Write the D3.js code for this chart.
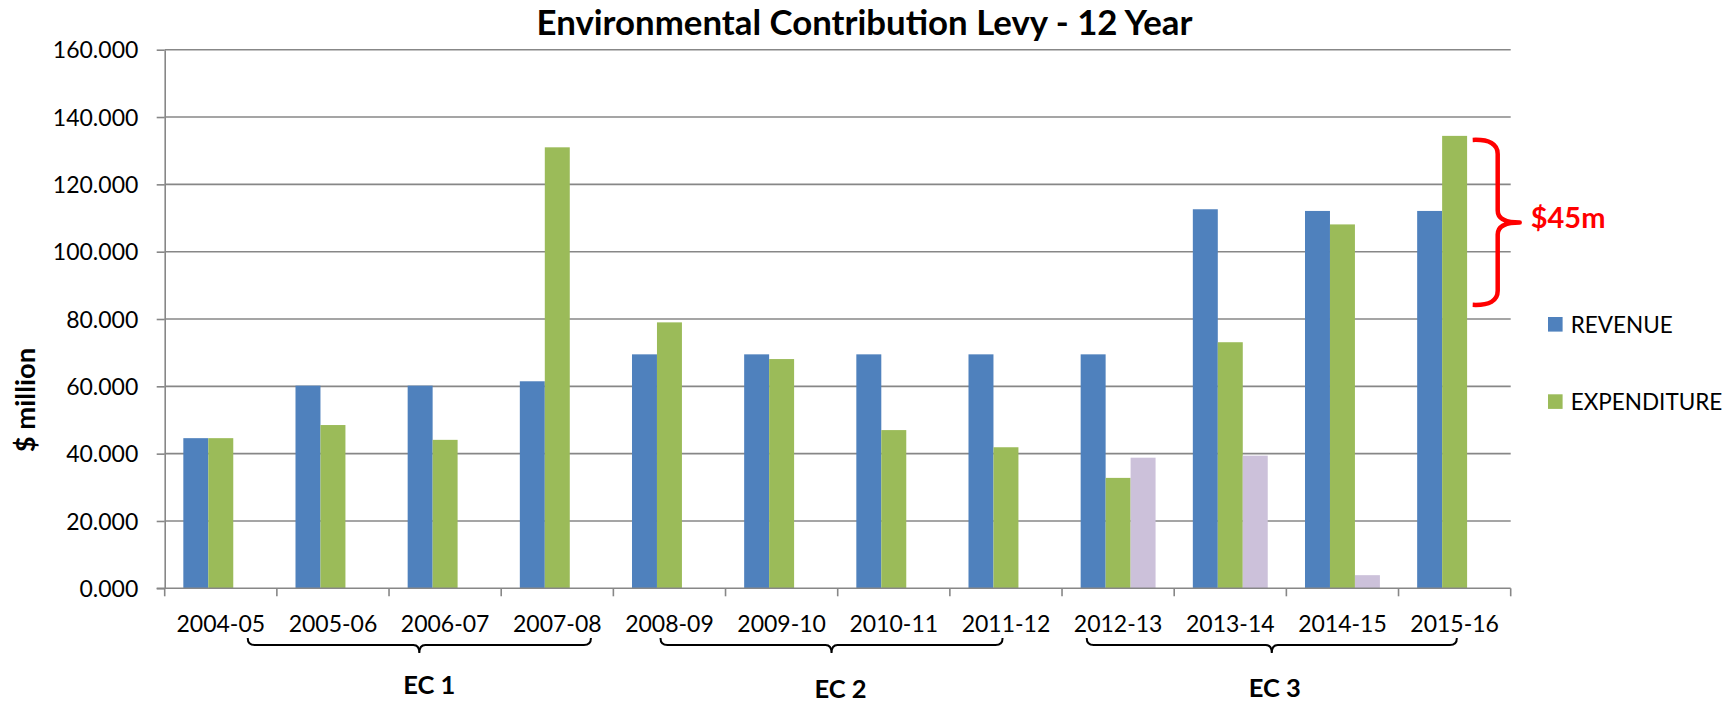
<!DOCTYPE html>
<html>
<head>
<meta charset="utf-8">
<script src="https://cdn.jsdelivr.net/npm/d3@7"></script>
<style>
  html, body { margin: 0; padding: 0; background: #ffffff; }
  svg { display: block; font-family: Lato, "Open Sans", "Liberation Sans", sans-serif; }
</style>
</head>
<body>
<svg id="chart" width="1731" height="702"></svg>
<script>
// ---------- data ----------
const categories = ["2004-05", "2005-06", "2006-07", "2007-08", "2008-09", "2009-10",
                    "2010-11", "2011-12", "2012-13", "2013-14", "2014-15", "2015-16"];
const revenue     = [44.6, 60.2, 60.2, 61.5, 69.5, 69.5, 69.5, 69.5, 69.5, 112.6, 112.1, 112.1];
const expenditure = [44.6, 48.5, 44.1, 131.0, 79.0, 68.1, 47.0, 41.9, 32.8, 73.1, 108.1, 134.4];
const other       = [null, null, null, null, null, null, null, null, 38.8, 39.4, 3.9, null];
const seriesNames = ["REVENUE", "EXPENDITURE", "OTHER"];
const legendNames = ["REVENUE", "EXPENDITURE"];
const yTicks = [0, 20, 40, 60, 80, 100, 120, 140, 160];
const ecLabels = ["EC 1", "EC 2", "EC 3"];
const ecStart  = ["2004-05", "2008-09", "2012-13"];
const ecEnd    = ["2007-08", "2011-12", "2015-16"];
const gapLabel = "$45m";
const gapRange = [84.2, 133.2];
const title = "Environmental Contribution Levy - 12 Year";
const yTitle = "$ million";

// ---------- layout / style ----------
const W = 1731, H = 702;
const plot = { left: 164.7, right: 1510.7, top: 49.7, bottom: 588.3 };
const colors = { REVENUE: "#4F81BD", EXPENDITURE: "#9BBB59", OTHER: "#CCC1DA" };
const gridColor = "#878787";

const svg = d3.select("#chart");

const x = d3.scaleBand().domain(categories).range([plot.left, plot.right]).paddingInner(0).paddingOuter(0);
const x1 = d3.scaleBand().domain(seriesNames).range([0, x.bandwidth()]).paddingInner(0).paddingOuter(0.746);
const y = d3.scaleLinear().domain([0, 160]).range([plot.bottom, plot.top]);

// gridlines
svg.append("g").selectAll("line").data(yTicks.filter(d => d > 0)).join("line")
  .attr("x1", plot.left).attr("x2", plot.right)
  .attr("y1", d => y(d)).attr("y2", d => y(d))
  .attr("stroke", gridColor).attr("stroke-width", 1.6);

// bars
const rows = categories.map((c, i) => ({ cat: c, REVENUE: revenue[i], EXPENDITURE: expenditure[i], OTHER: other[i] }));
const groups = svg.append("g").selectAll("g").data(rows).join("g")
  .attr("transform", d => `translate(${x(d.cat)},0)`);
groups.selectAll("rect")
  .data(d => seriesNames.map(s => ({ s, v: d[s] })).filter(e => e.v != null))
  .join("rect")
  .attr("x", e => x1(e.s))
  .attr("width", x1.bandwidth())
  .attr("y", e => y(e.v))
  .attr("height", e => y(0) - y(e.v))
  .attr("fill", e => colors[e.s]);

// y axis
const yAxis = d3.axisLeft(y).tickValues(yTicks).tickFormat(d3.format(".3f")).tickSize(8).tickSizeOuter(0).tickPadding(10);
const ya = svg.append("g").attr("transform", `translate(${plot.left},0)`).call(yAxis);
ya.select(".domain").attr("stroke", gridColor).attr("stroke-width", 1.6);
ya.selectAll(".tick line").attr("stroke", gridColor).attr("stroke-width", 1.6);
ya.selectAll(".tick text").attr("font-size", 23).attr("fill", "#000")
  .style("font-family", "Lato, 'Open Sans', sans-serif").attr("x", -(plot.left - 138.3)).attr("dy", "0.36em");

// x axis (ticks at band boundaries)
const xa = svg.append("g").attr("transform", `translate(0,${plot.bottom})`);
xa.append("line").attr("x1", plot.left - 8).attr("x2", plot.right)
  .attr("stroke", gridColor).attr("stroke-width", 1.6);
const boundaries = categories.map(c => x(c)).concat([x(categories[categories.length - 1]) + x.bandwidth()]);
xa.selectAll("line.tk").data(boundaries).join("line").attr("class", "tk")
  .attr("x1", d => d).attr("x2", d => d).attr("y1", 0).attr("y2", 8)
  .attr("stroke", gridColor).attr("stroke-width", 1.6);
xa.selectAll("text").data(categories).join("text")
  .attr("x", d => x(d) + x.bandwidth() / 2).attr("y", 631.7 - plot.bottom)
  .attr("text-anchor", "middle").attr("font-size", 23).attr("fill", "#000").text(d => d);

// EC brackets
const bracketFrac = [[0.74, 0.80], [0.42, 0.47], [0.22, 0.52]];
const labelBase = [694, 698, 697];
const labelShift = [10, 9, 3];
ecLabels.forEach((lab, i) => {
  const L = x(ecStart[i]) + bracketFrac[i][0] * x.bandwidth();
  const R = x(ecEnd[i]) + bracketFrac[i][1] * x.bandwidth();
  const M = (L + R) / 2;
  const yl = 645;
  const p = `M${L},${yl - 7} Q${L},${yl} ${L + 7},${yl} L${M - 6},${yl} Q${M},${yl} ${M},${yl + 8} Q${M},${yl} ${M + 6},${yl} L${R - 7},${yl} Q${R},${yl} ${R},${yl - 7}`;
  svg.append("path").attr("d", p).attr("fill", "none").attr("stroke", "#000").attr("stroke-width", 2);
  svg.append("text").attr("x", M + labelShift[i]).attr("y", labelBase[i]).attr("text-anchor", "middle")
    .attr("font-size", 25.5).attr("font-weight", "bold").attr("fill", "#000").text(lab);
});

// title
svg.append("text").attr("x", W / 2 - 1).attr("y", 35).attr("text-anchor", "middle")
  .attr("font-size", 34.8).attr("font-weight", "bold").attr("fill", "#000").text(title);

// y title
svg.append("text").attr("transform", `translate(35,400) rotate(-90)`).attr("text-anchor", "middle")
  .attr("font-size", 27.5).attr("font-weight", "bold").attr("fill", "#000").text(yTitle);

// legend
const leg = svg.append("g").selectAll("g").data(legendNames).join("g")
  .attr("transform", (d, i) => `translate(1548,${317 + i * 77.3})`);
leg.append("rect").attr("width", 14.6).attr("height", 14.6).attr("fill", d => colors[d]);
leg.append("text").attr("x", 22.7).attr("y", 15.7).attr("font-size", 22.5).attr("fill", "#000").text(d => d);

// red brace annotation
const yt = y(gapRange[1]), yb = y(gapRange[0]), ym = (yt + yb) / 2;
const bx = plot.right - 13, tip = plot.right - 38, pt = plot.right + 9;
const brace = `M${tip},${yt} Q${bx},${yt - 1} ${bx},${yt + 14} L${bx},${ym - 12} Q${bx},${ym} ${pt},${ym} Q${bx},${ym} ${bx},${ym + 12} L${bx},${yb - 14} Q${bx},${yb + 1} ${tip},${yb}`;
svg.append("path").attr("d", brace).attr("fill", "none").attr("stroke", "#FF0000")
  .attr("stroke-width", 4.5).attr("stroke-linejoin", "round").attr("stroke-linecap", "butt");
svg.append("text").attr("x", plot.right + 20).attr("y", ym + 6).attr("font-size", 29)
  .attr("font-weight", "bold").attr("fill", "#FF0000").text(gapLabel);
</script>
</body>
</html>
